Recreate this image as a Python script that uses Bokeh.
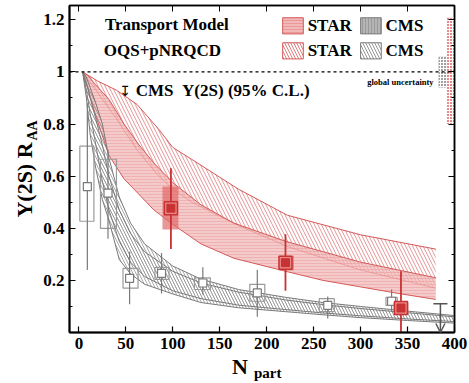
import math
from bokeh.plotting import figure
from bokeh.models import (Range1d, FixedTicker, LinearAxis, Label, Span, Arrow, OpenHead)
from bokeh.embed import file_html
from bokeh.resources import INLINE

# ---------------- data ----------------
# STAR band (dense / filled)
star_fill_x = [4, 10, 18, 32, 48, 64, 80, 100, 130, 165, 220, 260, 300, 340, 380]
star_fill_hi = [1.0, 0.985, 0.95, 0.895, 0.80, 0.72, 0.65, 0.575, 0.49, 0.42, 0.35, 0.31, 0.27, 0.24, 0.21]
star_fill_lo = [1.0, 0.93, 0.83, 0.68, 0.59, 0.53, 0.47, 0.415, 0.34, 0.285, 0.235, 0.20, 0.175, 0.15, 0.127]
# STAR band (hatched)
star_hatch_x = [4, 20, 40, 62, 85, 100, 120, 170, 222, 300, 380]
star_hatch_hi = [1.0, 0.965, 0.93, 0.875, 0.78, 0.71, 0.665, 0.55, 0.45, 0.375, 0.32]
star_hatch_lo = [1.0, 0.92, 0.82, 0.70, 0.60, 0.55, 0.50, 0.41, 0.33, 0.24, 0.17]
# CMS bands
cms_x = [4, 8, 12, 18, 25, 32, 43, 55, 70, 100, 130, 170, 220, 260, 300, 350, 400]
cms_hatch_hi = [1.0, 0.98, 0.94, 0.88, 0.80, 0.67, 0.52, 0.42, 0.34, 0.255, 0.205, 0.165, 0.135, 0.115, 0.10, 0.082, 0.065]
cms_hatch_lo = [1.0, 0.90, 0.76, 0.63, 0.51, 0.43, 0.28, 0.225, 0.185, 0.148, 0.115, 0.095, 0.08, 0.068, 0.057, 0.046, 0.036]
cms_fill_hi = [1.0, 0.96, 0.90, 0.82, 0.72, 0.60, 0.47, 0.38, 0.31, 0.235, 0.19, 0.155, 0.125, 0.107, 0.092, 0.076, 0.06]
cms_fill_lo = [1.0, 0.93, 0.84, 0.72, 0.58, 0.47, 0.35, 0.27, 0.215, 0.16, 0.13, 0.105, 0.088, 0.075, 0.064, 0.052, 0.042]

# CMS Upsilon(2S) data
cms_npart = [9, 31, 54, 88, 132, 190, 265, 333]
cms_raa = [0.56, 0.535, 0.208, 0.227, 0.19, 0.152, 0.104, 0.12]
cms_err_lo = [0.24, 0.36, 0.108, 0.15, 0.146, 0.06, 0.054, 0.08]
cms_err_hi = [0.88, 0.70, 0.31, 0.305, 0.25, 0.24, 0.138, 0.165]
cms_sys_left = [1, 23, 47, 81, 123, 182, 256, 327]
cms_sys_right = [16, 40, 63, 96, 140, 198, 272, 339]
cms_sys_lo = [0.427, 0.40, 0.17, 0.204, 0.165, 0.12, 0.08, 0.104]
cms_sys_hi = [0.715, 0.665, 0.246, 0.25, 0.21, 0.185, 0.13, 0.135]
# CMS 95% C.L. upper limit
cms_ul_npart = [385]
cms_ul_val = [0.11]

# STAR Upsilon(2S) data
star_npart = [98, 220, 343]
star_raa = [0.477, 0.268, 0.094]
star_err_lo = [0.32, 0.16, 0.0]
star_err_hi = [0.63, 0.377, 0.235]
star_sys_left = [89, 213, 335]
star_sys_right = [106, 229, 351]
star_sys_lo = [0.395, 0.238, 0.075]
star_sys_hi = [0.56, 0.295, 0.115]

# global uncertainties
glob_star = (0.80, 1.21)
glob_cms = (0.94, 1.058)

x_ticks = [0, 50, 100, 150, 200, 250, 300, 350, 400]
y_ticks = [0.2, 0.4, 0.6, 0.8, 1.0, 1.2]
y_minor = [0.1, 0.3, 0.5, 0.7, 0.9, 1.1]

# ---------------- style ----------------
RED = "#c83232"
RED_LINE = "#d45a5a"
PINK = "#f2b8b8"
GRAY = "#7a7a7a"
GRAY_L = "#9a9a9a"
FONT = "Liberation Serif"
NB = "\u00a0"

p = figure(width=469, height=383, output_backend="svg", toolbar_location=None,
           x_range=Range1d(-10, 400), y_range=Range1d(0, 1.255),
           min_border_left=69, min_border_right=15, min_border_top=5, min_border_bottom=51)
p.background_fill_color = "white"
p.border_fill_color = "white"
p.outline_line_color = "black"
p.outline_line_width = 1.5
p.xgrid.visible = False
p.ygrid.visible = False

# axes
p.xaxis.ticker = FixedTicker(ticks=x_ticks)
p.yaxis.ticker = FixedTicker(ticks=y_ticks, minor_ticks=y_minor)
p.yaxis.major_label_overrides = {0.2: "0.2", 0.4: "0.4", 0.6: "0.6", 0.8: "0.8", 1.0: "1", 1.2: "1.2"}
for ax in (p.xaxis[0], p.yaxis[0]):
    ax.axis_line_width = 2
    ax.major_tick_in = 6
    ax.major_tick_out = 0
    ax.minor_tick_in = 3
    ax.minor_tick_out = 0
    ax.major_tick_line_width = 1.2
    ax.minor_tick_line_width = 1.2
    ax.major_label_text_font = FONT
    ax.major_label_text_font_style = "bold"
    ax.major_label_text_font_size = "17px"
    ax.major_label_text_color = "black"
    ax.major_label_standoff = 5
    ax.axis_label_text_font = FONT
    ax.axis_label_text_font_style = "bold"
    ax.axis_label_text_color = "black"
p.xaxis.minor_tick_line_color = None

# main-axis titles (subscripts via stacked extra axes)
p.yaxis.axis_label = NB * 22 + "AA"
p.yaxis.axis_label_text_font_size = "14px"
p.yaxis.axis_label_standoff = 0
p.xaxis.axis_label = "N" + NB * 8
p.xaxis.axis_label_text_font_size = "22px"
p.xaxis.axis_label_standoff = 2

def title_axis(label, size, standoff):
    a = LinearAxis(ticker=FixedTicker(ticks=[]), axis_line_color=None,
                   major_tick_line_color=None, minor_tick_line_color=None,
                   axis_label=label, axis_label_text_font=FONT, axis_label_text_font_style="bold",
                   axis_label_text_font_size=size, axis_label_text_color="black",
                   axis_label_standoff=standoff, major_label_standoff=0)
    return a

p.add_layout(title_axis("Υ(2S) R" + NB * 4, "22px", -14), "left")
p.add_layout(title_axis(NB * 3 + "part", "15px", -17), "below")

top = LinearAxis(ticker=FixedTicker(ticks=x_ticks), major_label_overrides={t: "" for t in x_ticks},
                 major_tick_in=6, major_tick_out=0, minor_tick_line_color=None, axis_line_width=1.5)
right = LinearAxis(ticker=FixedTicker(ticks=y_ticks, minor_ticks=y_minor),
                   major_label_overrides={t: "" for t in y_ticks},
                   major_tick_in=6, major_tick_out=0, minor_tick_in=3, minor_tick_out=0, axis_line_width=1.5)
p.add_layout(top, "above")
p.add_layout(right, "right")

# ---------------- bands ----------------
p.varea(x=star_hatch_x, y1=star_hatch_lo, y2=star_hatch_hi, fill_alpha=0,
        hatch_pattern="\\", hatch_color=RED_LINE, hatch_scale=7, hatch_weight=0.8, hatch_alpha=0.8)
p.line(star_hatch_x, star_hatch_hi, line_color=RED_LINE, line_width=1)
p.line(star_hatch_x, star_hatch_lo, line_color=RED_LINE, line_width=1)

p.varea(x=star_fill_x, y1=star_fill_lo, y2=star_fill_hi, fill_color=PINK, fill_alpha=0.75,
        hatch_pattern="-", hatch_color="#e07a7a", hatch_scale=3, hatch_weight=0.5, hatch_alpha=0.6)
p.line(star_fill_x, star_fill_hi, line_color=RED_LINE, line_width=1)
p.line(star_fill_x, star_fill_lo, line_color=RED_LINE, line_width=1)

p.varea(x=cms_x, y1=cms_hatch_lo, y2=cms_hatch_hi, fill_alpha=0,
        hatch_pattern="\\", hatch_color=GRAY, hatch_scale=6, hatch_weight=0.8, hatch_alpha=0.8)
p.line(cms_x, cms_hatch_hi, line_color=GRAY, line_width=1)
p.line(cms_x, cms_hatch_lo, line_color=GRAY, line_width=1)
p.varea(x=cms_x, y1=cms_fill_lo, y2=cms_fill_hi, fill_alpha=0,
        hatch_pattern="\\", hatch_color=GRAY, hatch_scale=6, hatch_weight=0.6, hatch_alpha=0.6)
p.line(cms_x, cms_fill_hi, line_color=GRAY, line_width=1)
p.line(cms_x, cms_fill_lo, line_color=GRAY, line_width=1)

# reference line at 1
p.add_layout(Span(location=1.0, dimension="width", line_color="black", line_dash="3 3", line_width=1.2))

# global uncertainty boxes
p.quad(left=[391], right=[400], bottom=[glob_star[0]], top=[glob_star[1]], fill_color="#e88a8a",
       line_color=None, hatch_pattern="+", hatch_color="white", hatch_scale=3, hatch_weight=1)
p.quad(left=[383], right=[391], bottom=[glob_cms[0]], top=[glob_cms[1]], fill_color="#a0a0a0",
       line_color=None, hatch_pattern="+", hatch_color="white", hatch_scale=3, hatch_weight=1)

# ---------------- CMS data ----------------
p.quad(left=cms_sys_left, right=cms_sys_right, bottom=cms_sys_lo, top=cms_sys_hi,
       fill_color=None, line_color=GRAY_L, line_width=1.2)
p.segment(x0=cms_npart, y0=cms_err_lo, x1=cms_npart, y1=cms_err_hi, line_color=GRAY, line_width=1.2)
p.scatter(cms_npart, cms_raa, marker="square", size=8, fill_color="white", line_color=GRAY, line_width=1.2)

# upper limit
ul_half = 7.5
p.segment(x0=[x - ul_half for x in cms_ul_npart], y0=cms_ul_val,
          x1=[x + ul_half for x in cms_ul_npart], y1=cms_ul_val, line_color="#555555", line_width=1.5)
for xx, yy in zip(cms_ul_npart, cms_ul_val):
    p.add_layout(Arrow(end=OpenHead(size=9, line_color="#555555", line_width=1.5),
                       x_start=xx, y_start=yy, x_end=xx, y_end=0.0,
                       line_color="#555555", line_width=1.5))

# ---------------- STAR data ----------------
p.quad(left=star_sys_left, right=star_sys_right, bottom=star_sys_lo, top=star_sys_hi,
       fill_color="#e06a6a", fill_alpha=0.7, line_color=None)
p.segment(x0=star_npart, y0=star_err_lo, x1=star_npart, y1=star_err_hi, line_color=RED, line_width=1.8)
p.scatter(star_npart, star_raa, marker="square", size=13, fill_color="#e88888", line_color=RED, line_width=1.5)
p.scatter(star_npart, star_raa, marker="square", size=8, fill_color=RED, line_color=RED)

# ---------------- text ----------------
def lab(text, x, y, size, align="left", baseline="middle", angle=0, style="bold", font=FONT, color="black"):
    p.add_layout(Label(x=x, y=y, text=text, text_font=font, text_font_size=size, text_font_style=style,
                       text_align=align, text_baseline=baseline, angle=angle, text_color=color))

lab("Transport Model", 27.7, 1.181, "17px")
lab("OQS+pNRQCD", 26.5, 1.081, "17px")
lab("↧", 43.0, 0.927, "14px", font="DejaVu Sans", style="normal")
lab("CMS" + NB * 2 + "Υ(2S) (95% C.L.)", 60.6, 0.927, "17px")
lab("global uncertainty", 377.7, 0.96, "8.5px", align="right")

# legend
LEG_W = 22
rows = [(1.146, 1.208), (1.050, 1.112)]
p.quad(left=[217], right=[217 + LEG_W], bottom=[rows[0][0]], top=[rows[0][1]], fill_color=PINK,
       line_color=RED_LINE, hatch_pattern="-", hatch_color="#e07a7a", hatch_scale=3, hatch_weight=0.5)
p.quad(left=[300], right=[300 + LEG_W], bottom=[rows[0][0]], top=[rows[0][1]], fill_color="#b5b5b5",
       line_color=GRAY, hatch_pattern="|", hatch_color="#888888", hatch_scale=3, hatch_weight=0.6)
p.quad(left=[217], right=[217 + LEG_W], bottom=[rows[1][0]], top=[rows[1][1]], fill_color="white",
       line_color=RED_LINE, hatch_pattern="\\", hatch_color=RED_LINE, hatch_scale=6, hatch_weight=0.8)
p.quad(left=[300], right=[300 + LEG_W], bottom=[rows[1][0]], top=[rows[1][1]], fill_color="white",
       line_color=GRAY, hatch_pattern="\\", hatch_color=GRAY, hatch_scale=6, hatch_weight=0.8)
lab("STAR", 243.6, 1.177, "17px")
lab("CMS", 326.6, 1.177, "17px")
lab("STAR", 243.6, 1.081, "17px")
lab("CMS", 326.6, 1.081, "17px")

open("out.html", "w").write(file_html(p, INLINE))
